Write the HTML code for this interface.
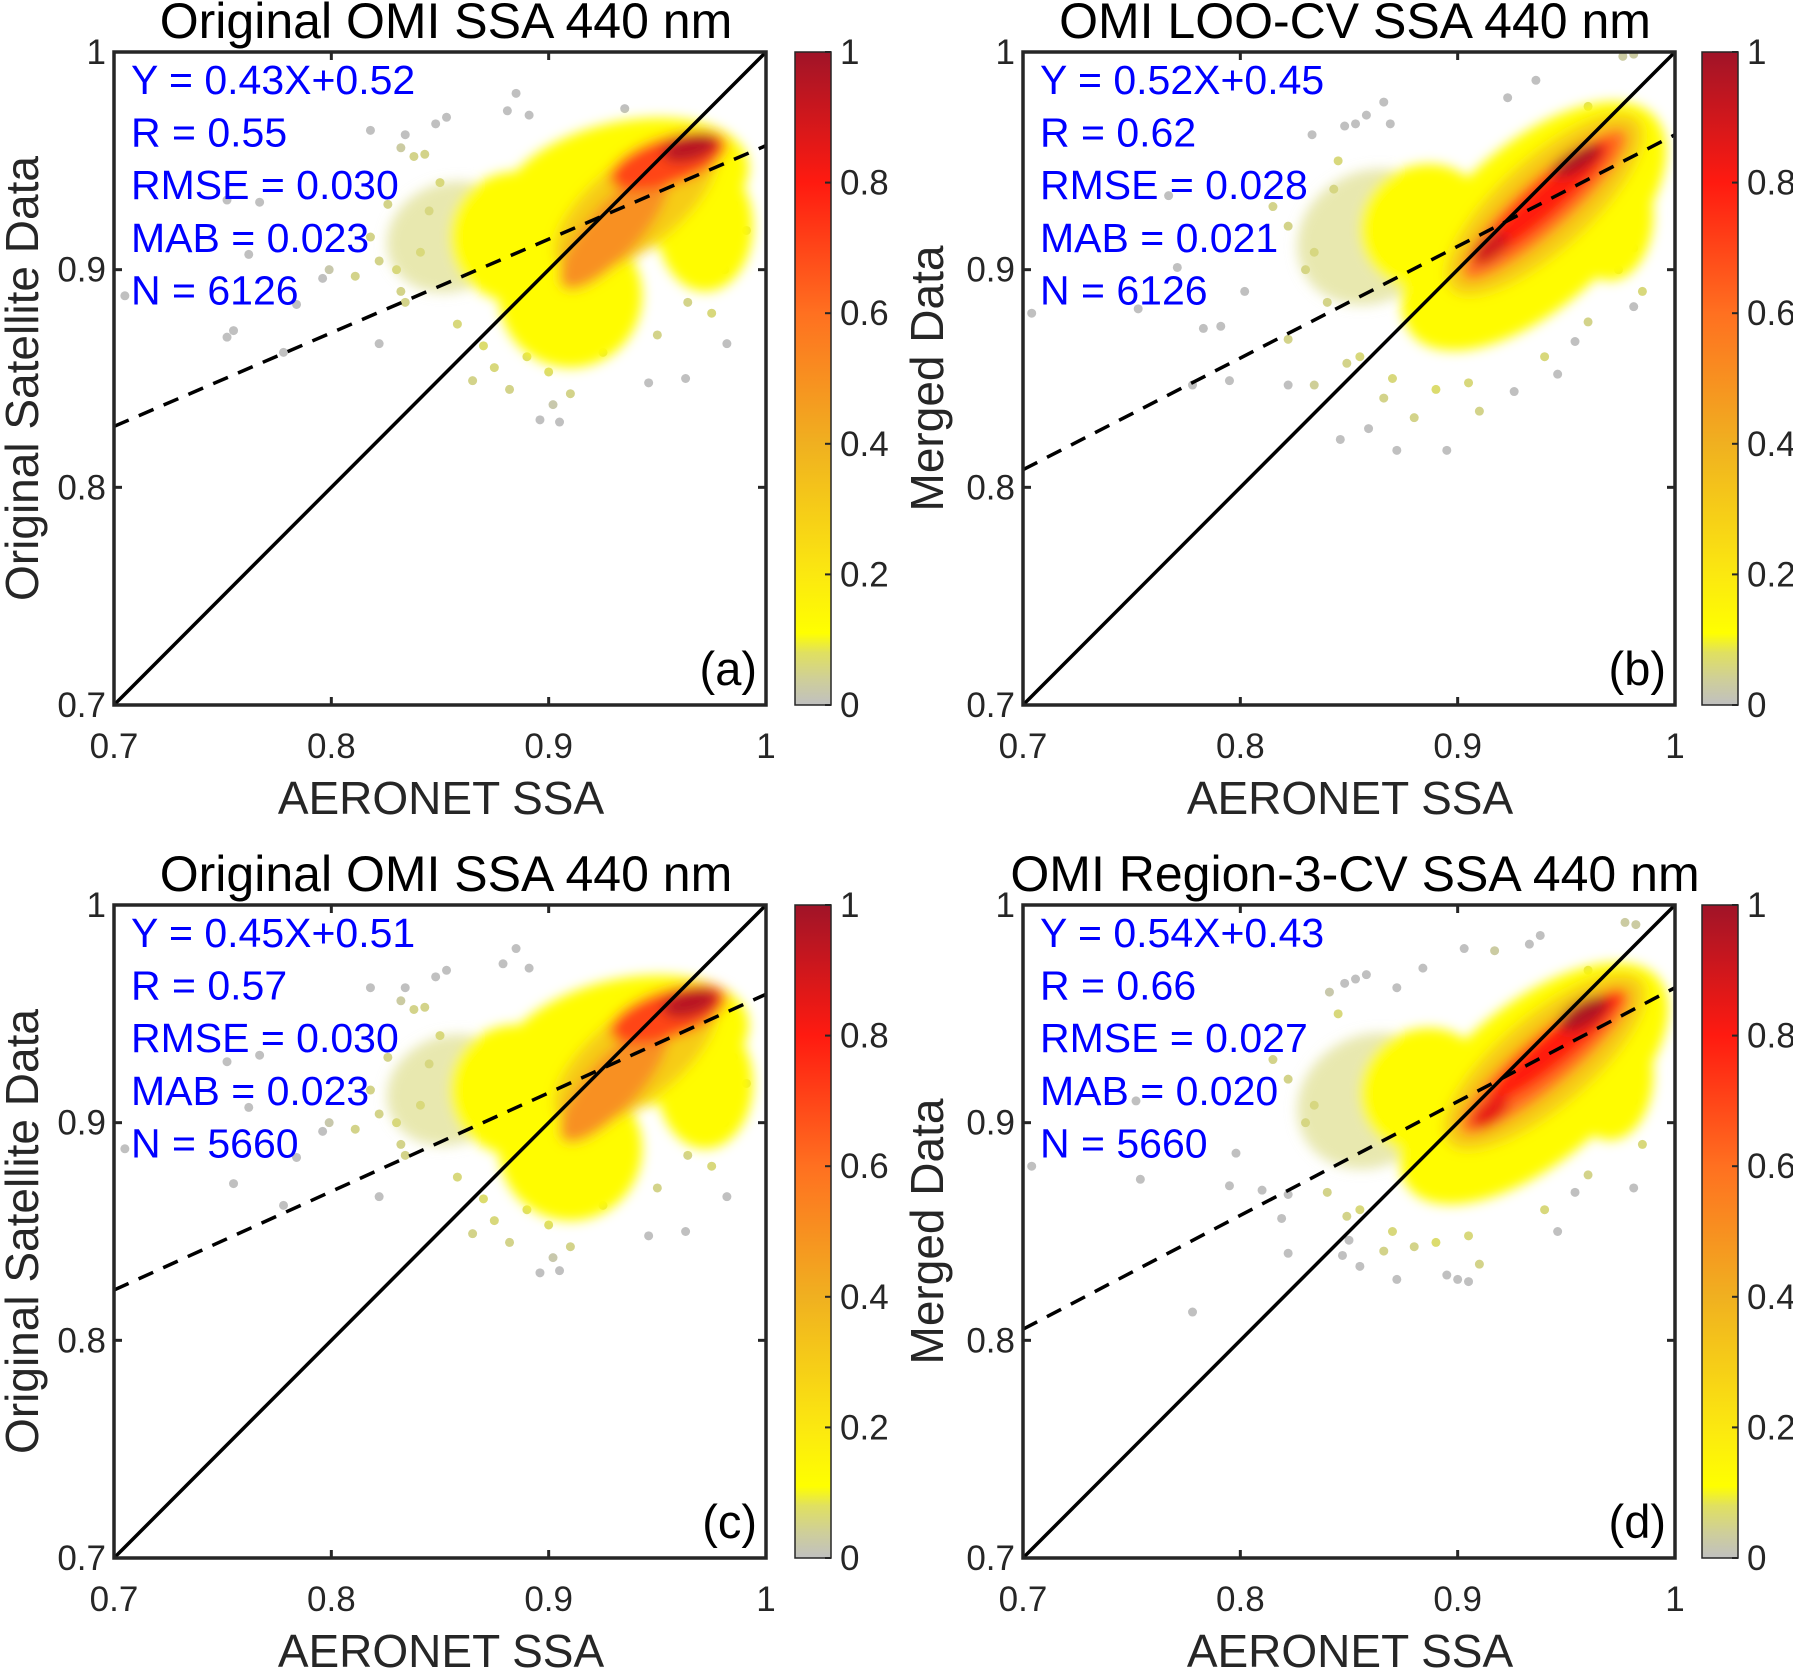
<!DOCTYPE html>
<html><head><meta charset="utf-8">
<style>
html,body{margin:0;padding:0;background:#fff;}
svg{display:block;font-family:"Liberation Sans",Arial,sans-serif;}
</style></head>
<body>
<svg id="fig" width="1793" height="1668" viewBox="0 0 1793 1668" xmlns="http://www.w3.org/2000/svg">
<defs>
<filter id="soft" x="-20%" y="-20%" width="140%" height="140%"><feGaussianBlur stdDeviation="6"/></filter>
<linearGradient id="cmap" x1="0" y1="1" x2="0" y2="0">
<stop offset="0" stop-color="#c0c0c0"/><stop offset="0.04" stop-color="#cfcf98"/><stop offset="0.08" stop-color="#e0e060"/><stop offset="0.11" stop-color="#ffff00"/>
<stop offset="0.2" stop-color="#fbe810"/><stop offset="0.4" stop-color="#f0b020"/><stop offset="0.6" stop-color="#ff7020"/>
<stop offset="0.8" stop-color="#ff1a10"/><stop offset="1" stop-color="#a01428"/></linearGradient>
</defs>
</svg>
<script>
// ---------- data ----------
const xTicks = [0.7, 0.8, 0.9, 1];
const xTickLabels = ["0.7", "0.8", "0.9", "1"];
const yTicks = [0.7, 0.8, 0.9, 1];
const yTickLabels = ["0.7", "0.8", "0.9", "1"];
const cbTicks = [0, 0.2, 0.4, 0.6, 0.8, 1];
const cbTickLabels = ["0", "0.2", "0.4", "0.6", "0.8", "1"];
const panelTitles = ["Original OMI SSA 440 nm", "OMI LOO-CV SSA 440 nm", "Original OMI SSA 440 nm", "OMI Region-3-CV SSA 440 nm"];
const panelYLabels = ["Original Satellite Data", "Merged Data", "Original Satellite Data", "Merged Data"];
const panelLetters = ["(a)", "(b)", "(c)", "(d)"];
const statsA = ["Y = 0.43X+0.52", "R = 0.55", "RMSE = 0.030", "MAB = 0.023", "N = 6126"];
const statsB = ["Y = 0.52X+0.45", "R = 0.62", "RMSE = 0.028", "MAB = 0.021", "N = 6126"];
const statsC = ["Y = 0.45X+0.51", "R = 0.57", "RMSE = 0.030", "MAB = 0.023", "N = 5660"];
const statsD = ["Y = 0.54X+0.43", "R = 0.66", "RMSE = 0.027", "MAB = 0.020", "N = 5660"];
// fit lines [slope, intercept]
const fitA = [0.43, 0.527];
const fitB = [0.513, 0.449];
const fitC = [0.453, 0.506];
const fitD = [0.523, 0.439];
// density blobs [cx, cy, rx, ry, angleDeg, level] (data units)
const blobsA = [[0.855,0.915,0.03,0.025,-20,0.06],[0.935,0.938,0.058,0.03,-12,0.12],[0.91,0.888,0.033,0.033,0,0.12],[0.885,0.915,0.03,0.03,0,0.12],[0.972,0.92,0.022,0.03,0,0.12],[0.94,0.93,0.045,0.02,-38,0.3],[0.93,0.918,0.035,0.012,-48,0.5],[0.955,0.95,0.028,0.011,-18,0.7],[0.965,0.956,0.013,0.006,-15,0.95]];
const blobsB = [[0.86,0.915,0.035,0.03,-30,0.06],[0.935,0.92,0.075,0.037,-42,0.12],[0.885,0.92,0.03,0.028,-30,0.12],[0.97,0.925,0.02,0.03,0,0.12],[0.94,0.93,0.058,0.021,-42,0.3],[0.94,0.93,0.05,0.012,-42,0.6],[0.94,0.932,0.04,0.008,-42,0.8],[0.955,0.95,0.013,0.005,-30,0.97],[0.915,0.91,0.01,0.005,-40,0.9]];
const blobsC = [[0.855,0.915,0.03,0.025,-20,0.06],[0.935,0.936,0.058,0.03,-12,0.12],[0.91,0.888,0.033,0.033,0,0.12],[0.885,0.915,0.03,0.03,0,0.12],[0.972,0.918,0.022,0.03,0,0.12],[0.94,0.93,0.045,0.02,-38,0.3],[0.93,0.918,0.035,0.012,-48,0.5],[0.955,0.95,0.028,0.011,-18,0.7],[0.965,0.955,0.013,0.006,-15,0.95]];
const blobsD = [[0.86,0.91,0.035,0.03,-30,0.06],[0.935,0.918,0.075,0.036,-40,0.12],[0.885,0.915,0.03,0.028,-30,0.12],[0.97,0.922,0.02,0.03,0,0.12],[0.94,0.928,0.058,0.021,-40,0.3],[0.94,0.928,0.05,0.012,-40,0.6],[0.945,0.935,0.04,0.008,-40,0.8],[0.958,0.95,0.013,0.006,-30,0.97],[0.915,0.905,0.01,0.005,-40,0.85]];
// sparse points
const ptsAx = [0.885,0.881,0.891,0.853,0.848,0.818,0.834,0.832,0.752,0.767,0.705,0.755,0.752,0.778,0.822,0.896,0.905,0.902,0.946,0.963,0.982,0.935,0.799,0.796,0.784,0.762,0.838,0.843,0.822,0.811,0.830,0.845,0.841,0.834,0.865,0.882,0.910,0.981,0.991,0.964,0.826,0.818,0.832,0.85,0.858,0.87,0.875,0.89,0.9,0.925,0.95,0.975,0.985,0.97];
const ptsAy = [0.981,0.973,0.971,0.970,0.967,0.964,0.962,0.956,0.932,0.931,0.888,0.872,0.869,0.862,0.866,0.831,0.830,0.838,0.848,0.850,0.866,0.974,0.900,0.896,0.884,0.907,0.952,0.953,0.904,0.897,0.900,0.927,0.908,0.885,0.849,0.845,0.843,0.900,0.918,0.885,0.93,0.915,0.89,0.94,0.875,0.865,0.855,0.86,0.853,0.862,0.87,0.88,0.93,0.905];
const ptsAv = [0,0,0,0,0,0,0,0.03,0,0,0,0,0,0,0,0,0,0.02,0,0,0,0,0.02,0,0,0,0.05,0.05,0.05,0.05,0.06,0.05,0.06,0.05,0.05,0.05,0.05,0.05,0.05,0.05,0.05,0.05,0.05,0.06,0.06,0.07,0.06,0.07,0.07,0.06,0.05,0.06,0.06,0.06];
const ptsBx = [0.866,0.858,0.848,0.853,0.869,0.923,0.936,0.833,0.767,0.704,0.753,0.783,0.791,0.778,0.795,0.822,0.846,0.859,0.872,0.895,0.926,0.946,0.954,0.981,0.976,0.981,0.771,0.802,0.815,0.822,0.834,0.822,0.834,0.849,0.866,0.880,0.910,0.981,0.974,0.960,0.843,0.840,0.83,0.845,0.855,0.87,0.89,0.905,0.94,0.96,0.985];
const ptsBy = [0.977,0.971,0.966,0.967,0.967,0.979,0.987,0.962,0.934,0.880,0.882,0.873,0.874,0.847,0.849,0.847,0.822,0.827,0.817,0.817,0.844,0.852,0.867,0.883,0.998,0.999,0.901,0.890,0.929,0.920,0.908,0.868,0.847,0.857,0.841,0.832,0.835,0.910,0.900,0.876,0.937,0.885,0.9,0.95,0.86,0.85,0.845,0.848,0.86,0.975,0.89];
const ptsBv = [0,0,0,0,0,0,0,0,0,0,0,0,0,0,0,0,0,0,0,0,0,0,0,0,0.03,0.03,0,0,0.05,0.05,0.05,0.05,0.04,0.05,0.05,0.05,0.05,0.05,0.05,0.05,0.05,0.05,0.05,0.06,0.06,0.06,0.07,0.06,0.06,0.06,0.06];
const ptsCx = [0.885,0.879,0.891,0.853,0.848,0.818,0.834,0.832,0.752,0.767,0.705,0.755,0.778,0.822,0.896,0.905,0.902,0.946,0.963,0.982,0.799,0.796,0.784,0.762,0.838,0.843,0.822,0.811,0.830,0.845,0.841,0.834,0.865,0.882,0.910,0.981,0.991,0.964,0.826,0.818,0.832,0.85,0.858,0.87,0.875,0.89,0.9,0.925,0.95,0.975,0.985,0.97];
const ptsCy = [0.980,0.973,0.971,0.970,0.967,0.962,0.962,0.956,0.928,0.931,0.888,0.872,0.862,0.866,0.831,0.832,0.838,0.848,0.850,0.866,0.900,0.896,0.884,0.907,0.952,0.953,0.904,0.897,0.900,0.927,0.908,0.885,0.849,0.845,0.843,0.900,0.918,0.885,0.93,0.915,0.89,0.94,0.875,0.865,0.855,0.86,0.853,0.862,0.87,0.88,0.93,0.905];
const ptsCv = [0,0,0,0,0,0,0,0.03,0,0,0,0,0,0,0,0,0.02,0,0,0,0.02,0,0,0,0.05,0.05,0.05,0.05,0.06,0.05,0.06,0.05,0.05,0.05,0.05,0.05,0.05,0.05,0.05,0.05,0.05,0.06,0.06,0.07,0.06,0.07,0.07,0.06,0.05,0.06,0.06,0.06];
const ptsDx = [0.841,0.848,0.853,0.858,0.872,0.884,0.903,0.917,0.933,0.938,0.704,0.752,0.754,0.795,0.798,0.810,0.822,0.822,0.819,0.850,0.847,0.855,0.872,0.895,0.900,0.905,0.946,0.954,0.981,0.977,0.982,0.778,0.815,0.822,0.834,0.840,0.849,0.866,0.880,0.910,0.981,0.974,0.960,0.83,0.845,0.855,0.87,0.89,0.905,0.94,0.96,0.985];
const ptsDy = [0.960,0.964,0.966,0.968,0.962,0.971,0.980,0.979,0.982,0.986,0.880,0.910,0.874,0.871,0.886,0.869,0.867,0.840,0.856,0.846,0.839,0.834,0.828,0.830,0.828,0.827,0.850,0.868,0.870,0.992,0.991,0.813,0.929,0.920,0.908,0.868,0.857,0.841,0.843,0.835,0.910,0.902,0.876,0.9,0.95,0.86,0.85,0.845,0.848,0.86,0.97,0.89];
const ptsDv = [0.02,0,0,0,0,0,0,0.03,0,0,0,0,0,0,0,0,0,0,0,0,0,0,0,0,0,0,0,0,0,0.03,0.03,0,0.05,0.05,0.05,0.05,0.05,0.05,0.05,0.05,0.05,0.05,0.05,0.05,0.06,0.06,0.06,0.07,0.06,0.06,0.06,0.06];

// ---------- drawing ----------
const NS = "http://www.w3.org/2000/svg";
const svg = document.getElementById("fig");
function mk(tag, attrs, parent) {
  const e = document.createElementNS(NS, tag);
  for (const k in attrs) e.setAttribute(k, attrs[k]);
  (parent || svg).appendChild(e);
  return e;
}
const cmStops = [[0,[192,192,192]],[0.04,[207,207,152]],[0.08,[224,224,96]],[0.11,[255,255,0]],[0.2,[251,232,16]],[0.4,[240,176,32]],[0.6,[255,112,32]],[0.8,[255,26,16]],[1,[160,20,40]]];
function cmap(v) {
  for (let i = 1; i < cmStops.length; i++) {
    if (v <= cmStops[i][0]) {
      const a = cmStops[i-1], b = cmStops[i], t = (v - a[0]) / (b[0] - a[0]);
      const c = a[1].map((x, j) => Math.round(x + (b[1][j] - x) * t));
      return "rgb(" + c.join(",") + ")";
    }
  }
  return "rgb(160,20,40)";
}
const panels = [
  {l:114, t:52, cb:795, stats:statsA, fit:fitA, blobs:blobsA, px:ptsAx, py:ptsAy, pv:ptsAv, ylx:22},
  {l:1023, t:52, cb:1702, stats:statsB, fit:fitB, blobs:blobsB, px:ptsBx, py:ptsBy, pv:ptsBv, ylx:927},
  {l:114, t:905, cb:795, stats:statsC, fit:fitC, blobs:blobsC, px:ptsCx, py:ptsCy, pv:ptsCv, ylx:22},
  {l:1023, t:905, cb:1702, stats:statsD, fit:fitD, blobs:blobsD, px:ptsDx, py:ptsDy, pv:ptsDv, ylx:927}
];
const W = 652, H = 653, CBW = 36;
panels.forEach((p, i) => {
  const g = mk("g", {});
  
  
  const sx = v => p.l + (v - 0.7) / 0.3 * W;
  const sy = v => p.t + H - (v - 0.7) / 0.3 * H;
  const clipId = "clip" + i;
  const cp = mk("clipPath", {id: clipId}, g);
  mk("rect", {x:p.l, y:p.t, width:W, height:H}, cp);
  const plot = mk("g", {"clip-path": "url(#" + clipId + ")"}, g);
  // sparse points (below)
  p.px.forEach((x, k) => {
    const c = mk("circle", {cx:sx(x), cy:sy(p.py[k]), r:4.5, fill:cmap(p.pv[k])}, plot);
    
    
  });
  // density blobs
  const bg = mk("g", {filter: "url(#soft)"}, plot);
  
  
  p.blobs.forEach(b => {
    const e = mk("ellipse", {cx:sx(b[0]), cy:sy(b[1]), rx:b[2] / 0.3 * W, ry:b[3] / 0.3 * H,
      transform:"rotate(" + b[4] + " " + sx(b[0]) + " " + sy(b[1]) + ")", fill:cmap(b[5]), "fill-opacity": b[5] < 0.1 ? 0.6 : 1}, bg);
    
    
  });
  // 1:1 line
  const l1 = mk("line", {x1:sx(0.7), y1:sy(0.7), x2:sx(1), y2:sy(1), stroke:"#000", "stroke-width":3.5}, plot);
  
  
  const lf = mk("line", {x1:sx(0.7), y1:sy(p.fit[0]*0.7 + p.fit[1]), x2:sx(1), y2:sy(p.fit[0] + p.fit[1]), stroke:"#000", "stroke-width":3.5, "stroke-dasharray":"16 11"}, plot);
  
  
  // axes box
  const box = mk("rect", {x:p.l, y:p.t, width:W, height:H, fill:"none", stroke:"#262626", "stroke-width":3.5}, g);
  
  
  xTicks.forEach((v, k) => {
    const x = sx(v);
    mk("line", {x1:x, y1:p.t+H, x2:x, y2:p.t+H-8, stroke:"#262626", "stroke-width":3}, g);
    mk("line", {x1:x, y1:p.t, x2:x, y2:p.t+8, stroke:"#262626", "stroke-width":3}, g);
    const t = mk("text", {x:x, y:p.t+H+53, "font-size":35, "text-anchor":"middle", fill:"#262626"}, g);
    t.textContent = xTickLabels[k];
    
    
  });
  yTicks.forEach((v, k) => {
    const y = sy(v);
    mk("line", {x1:p.l, y1:y, x2:p.l+8, y2:y, stroke:"#262626", "stroke-width":3}, g);
    mk("line", {x1:p.l+W, y1:y, x2:p.l+W-8, y2:y, stroke:"#262626", "stroke-width":3}, g);
    const t = mk("text", {x:p.l-8, y:y+12, "font-size":35, "text-anchor":"end", fill:"#262626"}, g);
    t.textContent = yTickLabels[k];
    
    
  });
  // title & labels
  const ti = mk("text", {x:p.l+W/2+6, y:p.t-14, "font-size":50, "text-anchor":"middle", fill:"#000"}, g);
  ti.textContent = panelTitles[i];
  
  
  const xl = mk("text", {x:p.l+W/2+1, y:p.t+H+109, "font-size":46, "text-anchor":"middle", fill:"#262626"}, g);
  xl.textContent = "AERONET SSA";
  
  
  const yc = p.t + H/2;
  const yl = mk("text", {x:p.ylx, y:yc, "font-size":46, "text-anchor":"middle", fill:"#262626", "dominant-baseline":"central", transform:"rotate(-90 " + p.ylx + " " + yc + ")"}, g);
  yl.textContent = panelYLabels[i];
  
  
  p.stats.forEach((s, k) => {
    const t = mk("text", {x:p.l+17, y:p.t+42+k*52.6, "font-size":41, fill:"#0000ff"}, g);
    t.textContent = s;
    
    
  });
  const lt = mk("text", {x:p.l+W-9, y:p.t+H-20, "font-size":47, "text-anchor":"end", fill:"#000"}, g);
  lt.textContent = panelLetters[i];
  
  
  // colorbar
  const cb = mk("rect", {x:p.cb, y:p.t, width:CBW, height:H, fill:"url(#cmap)", stroke:"#262626", "stroke-width":1.5}, g);
  
  
  cbTicks.forEach((v, k) => {
    const y = p.t + H - v * H;
    mk("line", {x1:p.cb+CBW, y1:y, x2:p.cb+CBW-6, y2:y, stroke:"#262626", "stroke-width":2}, g);
    const t = mk("text", {x:p.cb+CBW+9, y:y+12, "font-size":35, fill:"#262626"}, g);
    t.textContent = cbTickLabels[k];
    
    
  });
});
</script>
</body></html>
